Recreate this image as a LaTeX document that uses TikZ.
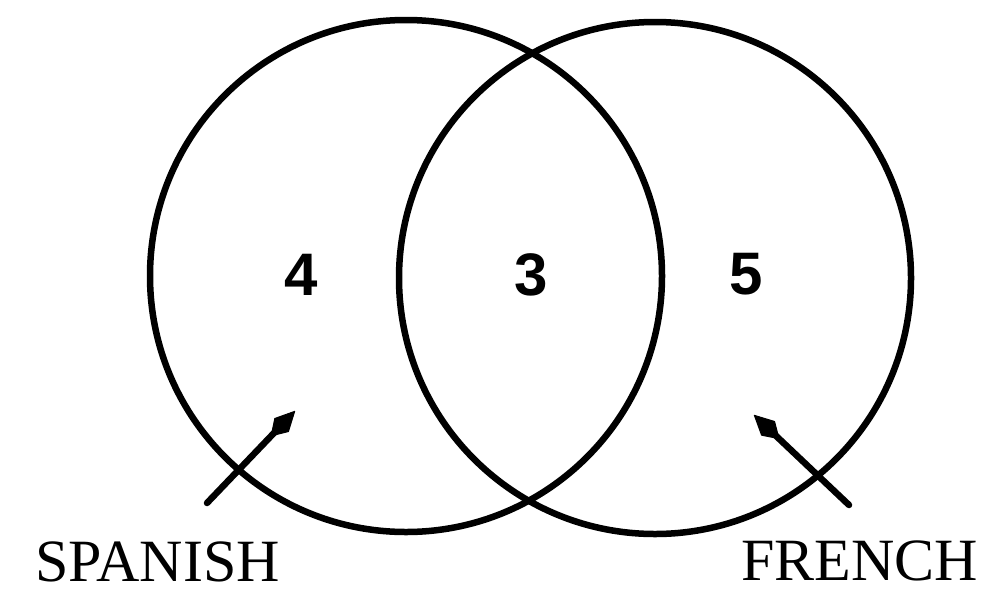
\documentclass[tikz,border=0pt]{standalone}
\usepackage{fontspec}
\setmainfont{Liberation Serif}
\newfontfamily\digitfont{Liberation Sans}
\usetikzlibrary{arrows.meta}
\begin{document}
\begin{tikzpicture}[x=1pt,y=-1pt,
  setcircle/.style={circle, draw=black, line width=6.5pt, inner sep=0pt, minimum size=512pt},
  countlabel/.style={font=\digitfont\bfseries\fontsize{60}{60}\selectfont, inner sep=0pt},
  setname/.style={font=\fontsize{60}{60}\selectfont, inner sep=0pt, anchor=base west},
  pointer/.style={line width=6.5pt, line cap=round, -{Kite[length=36pt 0,width=20pt 0,inset=16pt 0,line width=1pt,fill=black,round]}}]
\useasboundingbox (0,0) rectangle (990,595);
\node[setcircle] (spanishset) at (406,276) {};
\node[setcircle] (frenchset) at (655,278) {};
\node[countlabel] (four) at (301,275) {4};
\node[countlabel] (three) at (531,275) {3};
\node[countlabel] (five) at (746,274) {5};
\node[setname] (spanish) at (35,581) {SPANISH};
\node[setname] (french) at (741,580) {FRENCH};
\coordinate (spanishtail) at (207,503);
\coordinate (spanishtip) at (295,411);
\coordinate (frenchtail) at (849,505);
\coordinate (frenchtip) at (754,415);
\draw[pointer] (spanishtail) -- (spanishtip);
\draw[pointer] (frenchtail) -- (frenchtip);
\end{tikzpicture}
\end{document}
